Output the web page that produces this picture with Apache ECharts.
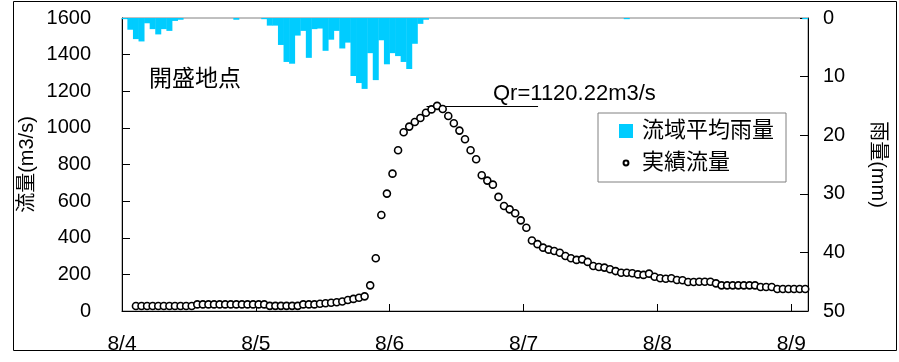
<!DOCTYPE html>
<html>
<head>
<meta charset="utf-8">
<script src="https://cdn.jsdelivr.net/npm/echarts@6/dist/echarts.min.js"></script>
<style>
  html, body { margin: 0; padding: 0; background: #fff; }
  #main { width: 899px; height: 362px; }
</style>
</head>
<body>
<div id="main"></div>
<script>
// hourly data, index 0 = 8/4 00:00
const dayLabels = ['8/4', '8/5', '8/6', '8/7', '8/8', '8/9'];
const flowTicks = [0, 200, 400, 600, 800, 1000, 1200, 1400, 1600];
const rainTicks = [0, 10, 20, 30, 40, 50];

// 流域平均雨量 (mm/h)
const rain = [
  0.2, 2.0, 3.6, 4.0, 0.9, 1.9, 2.8, 1.9, 2.2, 0.5, 0.3, 0, 0, 0, 0, 0, 0, 0, 0, 0, 0.3, 0, 0, 0,
  0, 0.2, 1.3, 1.3, 4.6, 7.5, 7.8, 3.0, 2.2, 6.8, 1.9, 1.8, 5.6, 3.7, 2.2, 5.2, 4.2, 9.9, 11.1, 12.1, 6.0, 10.6, 3.8, 7.9,
  6.0, 6.5, 7.5, 8.7, 4.4, 1.0, 0.3, 0, 0, 0, 0, 0, 0, 0, 0, 0, 0, 0, 0, 0, 0, 0, 0, 0,
  0, 0, 0, 0, 0, 0, 0, 0, 0, 0, 0, 0, 0, 0, 0, 0, 0, 0, 0.2, 0, 0, 0, 0, 0,
  0, 0, 0, 0, 0, 0, 0, 0, 0, 0, 0, 0, 0, 0, 0, 0, 0, 0, 0, 0, 0, 0, 0, 0,
  0, 0, 0.2
];

// 実績流量 (m3/s)
const flow = [
  null, null, 27, 27, 27, 27, 27, 27, 27, 27, 27, 27, 27, 36, 36, 36, 36, 36, 36, 36, 36, 36, 36, 36,
  36, 36, 28, 28, 28, 28, 28, 28, 36, 36, 36, 40, 42, 45, 48, 52, 60, 66, 72, 80, 140, 288, 524, 641,
  750, 878, 976, 1007, 1032, 1054, 1083, 1101, 1120.22, 1103, 1065, 1025, 985, 938, 878, 829, 741, 712, 690, 623, 573, 555, 534, 495,
  455, 385, 365, 346, 335, 328, 318, 300, 288, 279, 282, 268, 246, 240, 237, 228, 218, 209, 209, 206, 200, 197, 204, 187,
  179, 176, 179, 169, 168, 158, 158, 160, 160, 160, 151, 140, 140, 140, 140, 140, 140, 140, 131, 131, 131, 120, 120, 120,
  120, 120, 120
];

const peakFlow = 1120.22;
const peakLine = [54.6, 74.6];   // hours covered by the Qr line

const hours = rain.length;
const rainData = rain.map((v, i) => [i + 0.5, v || null]);
const flowData = flow.map((v, i) => [i + 0.5, v]).filter(d => d[1] !== null);

const font = 'Liberation Sans, Arial, Noto Sans CJK JP, sans-serif';
const myChart = echarts.init(document.getElementById('main'));

const option = {
  animation: false,
  backgroundColor: '#fff',
  textStyle: { fontFamily: font, color: '#000' },
  title: {
    text: '開盛地点',
    left: 144,
    top: 63,
    textStyle: { fontFamily: font, fontSize: 23, fontWeight: 'normal', color: '#000' }
  },
  legend: {
    orient: 'vertical',
    left: 598,
    top: 113,
    padding: [7, 12, 8, 20],
    itemWidth: 14,
    itemHeight: 14,
    itemGap: 10,
    borderColor: '#808080',
    borderWidth: 1,
    textStyle: { fontFamily: font, fontSize: 22, color: '#000', padding: [0, 0, 0, 4] },
    data: [
      { name: '流域平均雨量', icon: 'rect' },
      { name: '実績流量', icon: 'path://M0 0M20 20M10 6.5A3.5 3.5 0 1 1 10 13.5A3.5 3.5 0 1 1 10 6.5Z' }
    ]
  },
  grid: {
    left: 122,
    right: 91,
    top: 18,
    bottom: 51,
    show: true,
    borderColor: '#808080',
    borderWidth: 1
  },
  xAxis: {
    type: 'value',
    min: 0,
    max: hours,
    interval: 24,
    splitLine: { show: false },
    axisLine: { lineStyle: { color: '#000', width: 1 } },
    axisTick: { inside: true, length: 7, lineStyle: { color: '#000' } },
    axisLabel: {
      fontSize: 21,
      margin: 23,
      color: '#000',
      showMaxLabel: false,
      formatter: v => (v % 24 === 0 ? dayLabels[v / 24] : '')
    }
  },
  yAxis: [
    {
      type: 'value',
      min: flowTicks[0],
      max: flowTicks[flowTicks.length - 1],
      interval: 200,
      name: '流量(m3/s)',
      nameLocation: 'middle',
      nameGap: 85,
      nameMoveOverlap: false,
      nameTextStyle: { fontSize: 20, color: '#000' },
      splitLine: { show: false },
      axisLine: { show: true, lineStyle: { color: '#000', width: 1 } },
      axisTick: { show: true, inside: true, length: 8, lineStyle: { color: '#000' } },
      axisLabel: { fontSize: 20, margin: 31, color: '#000', formatter: v => String(v) }
    },
    {
      type: 'value',
      position: 'right',
      inverse: true,
      min: rainTicks[0],
      max: rainTicks[rainTicks.length - 1],
      interval: 10,
      name: '雨量(mm)',
      nameLocation: 'middle',
      nameRotate: -90,
      nameGap: 60,
      nameTextStyle: { fontSize: 20, color: '#000' },
      splitLine: { show: false },
      axisLine: { show: true, lineStyle: { color: '#000', width: 1 } },
      axisTick: { show: true, inside: true, length: 8, lineStyle: { color: '#000' } },
      axisLabel: { fontSize: 20, margin: 15, color: '#000' }
    }
  ],
  series: [
    {
      name: '流域平均雨量',
      type: 'bar',
      xAxisIndex: 0,
      yAxisIndex: 1,
      barWidth: 6,
      itemStyle: { color: '#00CCFF' },
      data: rainData
    },
    {
      name: '実績流量',
      type: 'scatter',
      xAxisIndex: 0,
      yAxisIndex: 0,
      symbol: 'circle',
      symbolSize: 7,
      itemStyle: { color: '#fff', borderColor: '#000', borderWidth: 1.6, opacity: 1 },
      z: 5,
      markLine: {
        silent: true,
        symbol: 'none',
        lineStyle: { color: '#000', width: 1, type: 'solid' },
        label: { show: false },
        data: [[{ coord: [peakLine[0], peakFlow] }, { coord: [peakLine[1], peakFlow] }]]
      },
      data: flowData
    }
  ],
  graphic: [
    {
      type: 'text',
      left: 493,
      top: 83,
      style: { text: 'Qr=' + peakFlow + 'm3/s', font: '22px ' + font, fill: '#000' }
    },
    {
      type: 'rect',
      shape: { x: 13.5, y: 1.5, width: 883, height: 349 },
      style: { fill: null, stroke: '#000', lineWidth: 1 },
      silent: true
    }
  ]
};

myChart.setOption(option);
</script>
</body>
</html>
